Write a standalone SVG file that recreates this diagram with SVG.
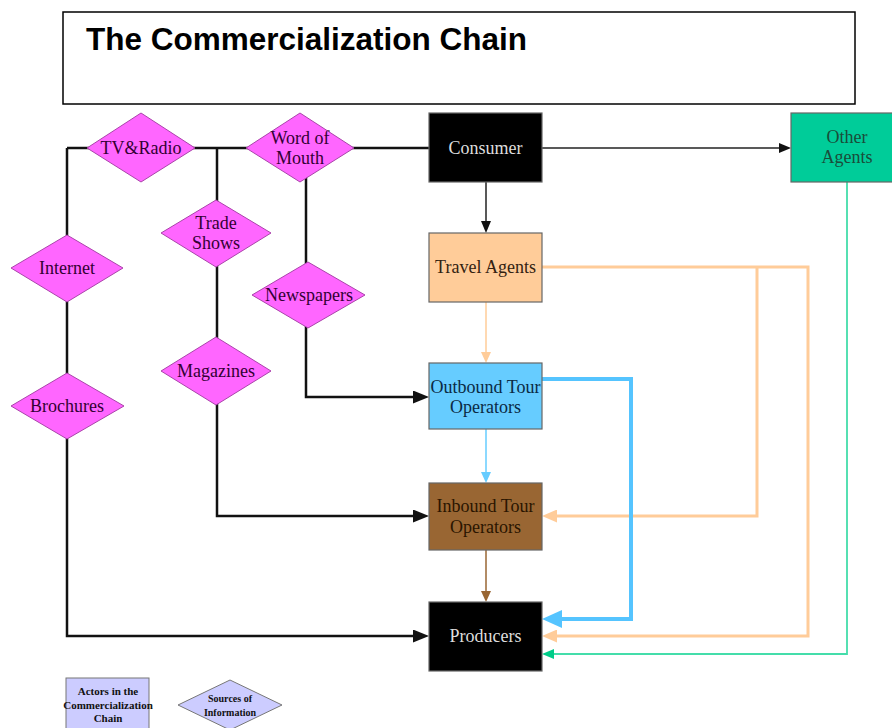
<svg xmlns="http://www.w3.org/2000/svg" width="892" height="728" viewBox="0 0 892 728">
<style>
.title{font-family:"Liberation Sans",Arial,sans-serif;font-weight:bold;font-size:31.5px;fill:#000}
.t{font-family:"Liberation Serif","Times New Roman",serif;font-size:18px;text-anchor:middle}
.dia{fill:#ff66ff;stroke:#aa44aa;stroke-width:1}
.dt{fill:#330033}
.box{stroke:#666;stroke-width:1.2}
.lg{font-family:"Liberation Serif","Times New Roman",serif;font-weight:bold;font-size:11px;text-anchor:middle;fill:#111}
.src{fill:none;stroke:#111;stroke-width:2.5}
.thin{fill:none;stroke:#222;stroke-width:1.5}
.or{fill:none;stroke:#ffcc99;stroke-width:3}
.ors{fill:none;stroke:#ffcc99;stroke-width:1.5}
.bl{fill:none;stroke:#55c4ff;stroke-width:4}
.bls{fill:none;stroke:#66ccff;stroke-width:1.5}
.br{fill:none;stroke:#996633;stroke-width:1.5}
.te{fill:none;stroke:#44ddaa;stroke-width:1.8}
</style>
<defs>
<marker id="ab" markerUnits="userSpaceOnUse" markerWidth="16" markerHeight="13" refX="0" refY="6.5" orient="auto"><path d="M0,0 L16,6.5 L0,13 z" fill="#111"/></marker>
<marker id="as" markerUnits="userSpaceOnUse" markerWidth="12" markerHeight="10" refX="0" refY="5" orient="auto"><path d="M0,0 L12,5 L0,10 z" fill="#111"/></marker>
<marker id="ao" markerUnits="userSpaceOnUse" markerWidth="15" markerHeight="13" refX="0" refY="6.5" orient="auto"><path d="M0,0 L15,6.5 L0,13 z" fill="#ffcc99"/></marker>
<marker id="aos" markerUnits="userSpaceOnUse" markerWidth="11" markerHeight="10" refX="0" refY="5" orient="auto"><path d="M0,0 L11,5 L0,10 z" fill="#ffcc99"/></marker>
<marker id="abl" markerUnits="userSpaceOnUse" markerWidth="20" markerHeight="18" refX="0" refY="9" orient="auto"><path d="M0,0 L20,9 L0,18 z" fill="#55c4ff"/></marker>
<marker id="abls" markerUnits="userSpaceOnUse" markerWidth="11" markerHeight="10" refX="0" refY="5" orient="auto"><path d="M0,0 L11,5 L0,10 z" fill="#66ccff"/></marker>
<marker id="abr" markerUnits="userSpaceOnUse" markerWidth="11" markerHeight="10" refX="0" refY="5" orient="auto"><path d="M0,0 L11,5 L0,10 z" fill="#996633"/></marker>
<marker id="at" markerUnits="userSpaceOnUse" markerWidth="12" markerHeight="10" refX="0" refY="5" orient="auto"><path d="M0,0 L12,5 L0,10 z" fill="#00cc88"/></marker>
</defs>

<g id="title">
<rect x="63" y="12" width="792" height="92" fill="#fff" stroke="#000" stroke-width="1.5"/>
<text class="title" x="86" y="50">The Commercialization Chain</text>
</g>

<g id="connectors">
<path class="src" d="M67,148 H429"/>
<path class="src" d="M67,148 V636 H413" marker-end="url(#ab)"/>
<path class="src" d="M217,148 V516 H413" marker-end="url(#ab)"/>
<path class="src" d="M306,148 V397 H413" marker-end="url(#ab)"/>
<path class="thin" d="M542,148 H779" marker-end="url(#as)"/>
<path class="thin" d="M486,182 V221" marker-end="url(#as)"/>
<path class="or" d="M542,267 H808 V636 H557" marker-end="url(#ao)"/>
<path class="or" d="M757,267 V516 H557" marker-end="url(#ao)"/>
<path class="ors" d="M486,302 V352" marker-end="url(#aos)"/>
<path class="bl" d="M542,379 H631 V619 H562" marker-end="url(#abl)"/>
<path class="bls" d="M486,429 V472" marker-end="url(#abls)"/>
<path class="br" d="M486,550 V591" marker-end="url(#abr)"/>
<path class="te" d="M847,182 V654 H554" marker-end="url(#at)"/>
</g>

<g id="tv-radio">
<polygon class="dia" points="87,148 141,113 195,148 141,182"/>
<text class="t dt" x="141" y="154">TV&amp;Radio</text>
</g>
<g id="word-of-mouth">
<polygon class="dia" points="246,148 300,113 354,148 300,182"/>
<text class="t dt" x="300" y="144">Word of</text>
<text class="t dt" x="300" y="164">Mouth</text>
</g>
<g id="trade-shows">
<polygon class="dia" points="161,233 216,200 271,233 216,267"/>
<text class="t dt" x="216" y="229">Trade</text>
<text class="t dt" x="216" y="249">Shows</text>
</g>
<g id="internet">
<polygon class="dia" points="11,268 67,235 123,268 67,302"/>
<text class="t dt" x="67" y="274">Internet</text>
</g>
<g id="newspapers">
<polygon class="dia" points="252,295 308,262 365,295 308,328"/>
<text class="t dt" x="309" y="301">Newspapers</text>
</g>
<g id="magazines">
<polygon class="dia" points="161,371 216,337 271,371 216,405"/>
<text class="t dt" x="216" y="377">Magazines</text>
</g>
<g id="brochures">
<polygon class="dia" points="11,406 67,373 124,406 67,439"/>
<text class="t dt" x="67" y="412">Brochures</text>
</g>

<g id="consumer">
<rect class="box" x="429" y="113" width="113" height="69" fill="#000"/>
<text class="t" x="485.5" y="154" fill="#dddddd">Consumer</text>
</g>
<g id="other-agents">
<rect class="box" x="791" y="113" width="113" height="69" fill="#00cc99" stroke="#00cc99"/>
<text class="t" x="847" y="143" fill="#1a4d3a">Other</text>
<text class="t" x="847" y="163" fill="#1a4d3a">Agents</text>
</g>
<g id="travel-agents">
<rect class="box" x="429" y="233" width="113" height="69" fill="#ffcc99"/>
<text class="t" x="485.5" y="273" fill="#332211">Travel Agents</text>
</g>
<g id="outbound">
<rect class="box" x="429" y="363" width="113" height="66" fill="#66ccff"/>
<text class="t" x="485.5" y="393" fill="#0a2a44">Outbound Tour</text>
<text class="t" x="485.5" y="413" fill="#0a2a44">Operators</text>
</g>
<g id="inbound">
<rect class="box" x="429" y="483" width="113" height="67" fill="#996633"/>
<text class="t" x="485.5" y="512" fill="#2a1500">Inbound Tour</text>
<text class="t" x="485.5" y="533" fill="#2a1500">Operators</text>
</g>
<g id="producers">
<rect class="box" x="429" y="602" width="113" height="69" fill="#000"/>
<text class="t" x="485.5" y="642" fill="#dddddd">Producers</text>
</g>

<g id="legend-actors">
<rect x="66" y="678" width="83" height="54" fill="#ccccff" stroke="#777" stroke-width="1"/>
<text class="lg" x="108" y="695">Actors in the</text>
<text class="lg" x="108" y="709">Commercialization</text>
<text class="lg" x="108" y="722">Chain</text>
</g>
<g id="legend-sources">
<polygon points="178,705 230,680 282,705 230,730" fill="#ccccff" stroke="#777" stroke-width="1"/>
<text class="lg" x="230" y="702" style="font-size:10px">Sources of</text>
<text class="lg" x="230" y="716" style="font-size:10px">Information</text>
</g>
</svg>
